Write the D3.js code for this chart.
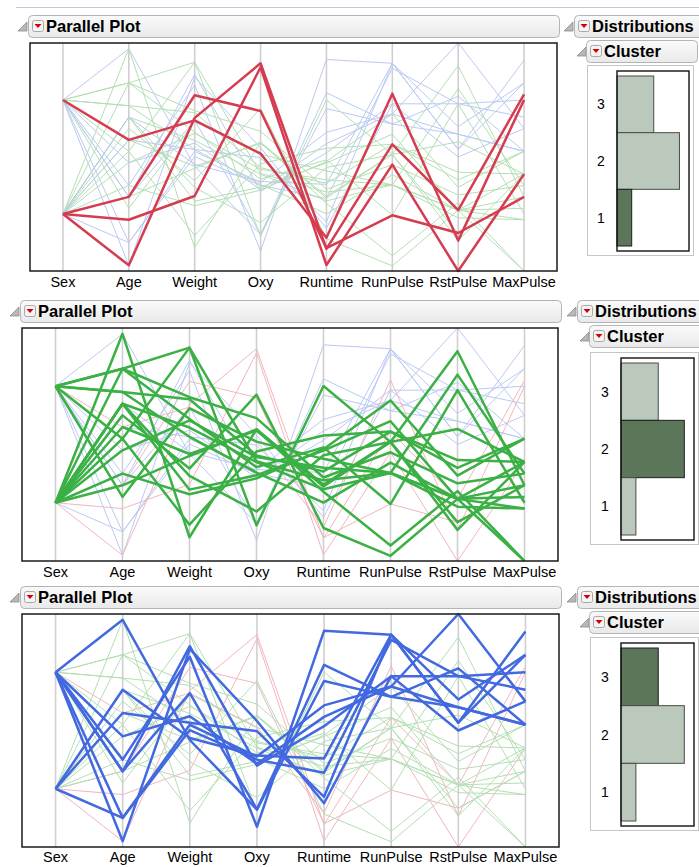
<!DOCTYPE html>
<html>
<head>
<meta charset="utf-8">
<script src="https://cdn.jsdelivr.net/npm/d3@7"></script>
<style>
  body { margin: 0; background: #fff; }
  svg { display: block; font-family: Arial, "Liberation Sans", sans-serif; }
  .head-text { font-weight: bold; font-size: 16.5px; fill: #000; }
  .axis-label { font-size: 14.5px; fill: #000; }
  .bar-label { font-size: 14px; fill: #000; }
</style>
</head>
<body>
<svg width="699" height="867"></svg>
<script>
// one entry per row (31 rows), in the same order everywhere
const sex      = ["M","M","F","F","M","M","F","M","M","F","F","M","F","F","M","M","F","F","F","F","M","M","M","F","F","F","F","F","F","M","M"];
const age      = [44,40,44,42,38,47,40,43,44,38,44,45,45,47,54,49,51,51,48,49,57,54,52,50,51,54,51,57,49,48,52];
const weight   = [89.47,75.07,85.84,68.15,89.02,77.45,75.98,81.19,81.42,81.87,73.03,87.66,66.45,79.15,83.12,81.42,69.63,77.91,91.63,73.37,73.37,79.38,76.32,70.87,67.25,91.63,73.71,59.08,76.32,61.24,82.78];
const oxy      = [44.61,45.31,54.30,59.57,49.87,44.81,45.68,49.09,39.44,60.06,50.54,37.39,44.75,47.27,51.86,49.16,40.84,46.67,46.77,50.39,39.41,46.08,45.44,54.63,45.12,39.20,45.79,50.55,48.67,47.92,47.47];
const runtime  = [11.37,10.07,8.65,8.17,9.22,11.63,11.95,10.85,13.08,8.63,10.13,14.03,11.12,10.60,10.33,8.95,10.95,10.00,10.25,10.08,12.63,11.17,9.63,8.92,11.08,12.88,10.47,9.93,9.40,11.50,10.50];
const runPulse = [178,185,156,166,178,176,176,162,174,170,168,186,176,162,166,180,168,162,162,168,174,156,164,146,172,168,186,148,186,170,170];
const rstPulse = [62,62,45,40,55,58,70,64,63,48,45,56,51,47,50,44,57,48,48,67,58,62,48,48,48,44,59,49,56,52,53];
const maxPulse = [182,185,168,172,180,176,180,170,176,186,168,192,176,164,170,185,172,168,164,168,176,165,166,155,172,172,188,155,188,176,172];
const cluster  = [3,3,1,1,3,3,3,2,3,1,2,3,2,2,2,1,2,2,2,2,3,2,2,2,2,2,3,2,3,2,2];

const dims = ["Sex","Age","Weight","Oxy","Runtime","RunPulse","RstPulse","MaxPulse"];
const columns = [sex, age, weight, oxy, runtime, runPulse, rstPulse, maxPulse];
const sexLevels = ["M","F"];           // top band, bottom band
const clusterLevels = ["3","2","1"];   // top to bottom in the histogram

// axis ranges of each continuous column
const domains = {
  Age: [37.5, 57.5], Weight: [55, 95], Oxy: [35, 62.5], Runtime: [8, 14.5],
  RunPulse: [145, 190], RstPulse: [40, 70], MaxPulse: [155, 195]
};

const strong = {1: "#d63c50", 2: "#3bb045", 3: "#4269df"};
const faint  = {1: "#f2b6be", 2: "#b3dfb3", 3: "#bccaf2"};

const panels = [
  {hl: 1, head: {x: 28, x2: 559, y: 15}, tri: 18,
   frame: {x0: 30, x1: 557, y0: 43, y1: 271}, labelY: 287,
   dist: {tri: 564, x: 574, y: 15}, clus: {tri: 577, x: 586, x2: 697, y: 40},
   box: {x: 587, y: 65, w: 106, h: 190}, inner: {x: 617, y: 71, w: 72, h: 180}},
  {hl: 2, head: {x: 20, x2: 561, y: 300}, tri: 10,
   frame: {x0: 22, x1: 558, y0: 328, y1: 561}, labelY: 577,
   dist: {tri: 567, x: 577, y: 300}, clus: {tri: 580, x: 589, x2: 710, y: 325},
   box: {x: 590, y: 352, w: 108, h: 192}, inner: {x: 621, y: 358, w: 73, h: 182}},
  {hl: 3, head: {x: 20, x2: 561, y: 586}, tri: 10,
   frame: {x0: 22, x1: 559, y0: 614, y1: 847}, labelY: 862,
   dist: {tri: 567, x: 577, y: 586}, clus: {tri: 580, x: 589, x2: 710, y: 611},
   box: {x: 590, y: 637, w: 108, h: 193}, inner: {x: 621, y: 643, w: 73, h: 183}}
];

const svg = d3.select("svg");
const defs = svg.append("defs");
const grad = defs.append("linearGradient").attr("id", "hdr").attr("x1", 0).attr("y1", 0).attr("x2", 0).attr("y2", 1);
grad.append("stop").attr("offset", "0%").attr("stop-color", "#fafafa");
grad.append("stop").attr("offset", "100%").attr("stop-color", "#e9e9e9");

svg.append("line").attr("x1", 16).attr("x2", 699).attr("y1", 7.5).attr("y2", 7.5)
  .attr("stroke", "#c3c9dc").attr("stroke-width", 1);

function header(x, x2, y, label, tri) {
  const g = svg.append("g");
  g.append("path")
    .attr("d", `M${tri + 9},${y + 7}L${tri + 9},${y + 16}L${tri},${y + 16}Z`)
    .attr("fill", "#b8b8b8").attr("stroke", "#8a8a8a").attr("stroke-width", 0.8);
  g.append("rect").attr("x", x + 0.5).attr("y", y + 0.5).attr("width", x2 - x).attr("height", 22)
    .attr("rx", 4).attr("fill", "url(#hdr)").attr("stroke", "#b4b4b4");
  g.append("rect").attr("x", x + 4.5).attr("y", y + 5.5).attr("width", 11).attr("height", 11)
    .attr("rx", 2).attr("fill", "#f4f4f4").attr("stroke", "#a8a8a8");
  g.append("path")
    .attr("d", `M${x + 6.5},${y + 9}L${x + 13.5},${y + 9}L${x + 10},${y + 13}Z`)
    .attr("fill", "#d40000");
  g.append("text").attr("class", "head-text").attr("x", x + 18).attr("y", y + 16.5).text(label);
}

panels.forEach(p => {
  const f = p.frame;
  header(p.head.x, p.head.x2, p.head.y, "Parallel Plot", p.tri);
  header(p.dist.x, 720, p.dist.y, "Distributions", p.dist.tri);
  header(p.clus.x, p.clus.x2, p.clus.y, "Cluster", p.clus.tri);

  const x = d3.scalePoint().domain(dims).range([f.x0, f.x1]).padding(0.5);
  const y = {};
  dims.forEach(d => {
    if (d === "Sex") {
      y[d] = d3.scaleBand().domain(sexLevels).range([f.y0, f.y1]);
    } else {
      y[d] = d3.scaleLinear().domain(domains[d]).range([f.y1, f.y0]);
    }
  });
  const pos = (d, v) => d === "Sex" ? y[d](v) + y[d].bandwidth() / 2 : y[d](v);

  const g = svg.append("g");
  g.append("rect").attr("x", f.x0).attr("y", f.y0).attr("width", f.x1 - f.x0).attr("height", f.y1 - f.y0)
    .attr("fill", "#fff");

  g.selectAll(".axis").data(dims).enter().append("line")
    .attr("x1", d => x(d)).attr("x2", d => x(d))
    .attr("y1", f.y0).attr("y2", f.y1)
    .attr("stroke", "#cfcfcf").attr("stroke-width", 1.6);

  const rows = d3.range(cluster.length).map(i => ({
    c: cluster[i],
    pts: dims.map((d, k) => [x(d), pos(d, columns[k][i])])
  }));
  const line = d3.line();
  const back = rows.filter(r => r.c !== p.hl);
  const front = rows.filter(r => r.c === p.hl);

  g.selectAll(".faint").data(back).enter().append("path")
    .attr("d", r => line(r.pts)).attr("fill", "none")
    .attr("stroke", r => faint[r.c]).attr("stroke-width", 1);
  g.selectAll(".strong").data(front).enter().append("path")
    .attr("d", r => line(r.pts)).attr("fill", "none")
    .attr("stroke", r => strong[r.c]).attr("stroke-width", 2.5)
    .attr("stroke-linejoin", "round");

  g.append("rect").attr("x", f.x0).attr("y", f.y0).attr("width", f.x1 - f.x0).attr("height", f.y1 - f.y0)
    .attr("fill", "none").attr("stroke", "#1a1a1a").attr("stroke-width", 1.5);

  g.selectAll(".axis-label").data(dims).enter().append("text")
    .attr("class", "axis-label").attr("x", d => x(d)).attr("y", p.labelY)
    .attr("text-anchor", "middle").text(d => d);

  // cluster histogram
  const counts = d3.rollup(cluster, v => v.length, c => String(c));
  const b = p.box, inn = p.inner;
  svg.append("rect").attr("x", b.x + 0.5).attr("y", b.y + 0.5).attr("width", b.w).attr("height", b.h)
    .attr("fill", "#fff").attr("stroke", "#c6c6c6");
  const by = d3.scaleBand().domain(clusterLevels).range([inn.y + 5, inn.y + inn.h - 5]);
  const bx = d3.scaleLinear().domain([0, 19.6]).range([inn.x, inn.x + inn.w]);
  svg.selectAll(null).data(clusterLevels).enter().append("rect")
    .attr("x", bx(0)).attr("y", d => by(d))
    .attr("width", d => bx(counts.get(d)) - bx(0)).attr("height", by.bandwidth())
    .attr("fill", d => +d === p.hl ? "#5b7659" : "#bac9bb")
    .attr("stroke", d => +d === p.hl ? "#1e1e1e" : "#4a4a4a").attr("stroke-width", 1);
  svg.append("rect").attr("x", inn.x).attr("y", inn.y).attr("width", inn.w).attr("height", inn.h)
    .attr("fill", "none").attr("stroke", "#111").attr("stroke-width", 1.4);
  svg.selectAll(null).data(clusterLevels).enter().append("text")
    .attr("class", "bar-label").attr("x", inn.x - 16)
    .attr("y", d => by(d) + by.bandwidth() / 2 + 5)
    .attr("text-anchor", "middle").text(d => d);
});
</script>
</body>
</html>
